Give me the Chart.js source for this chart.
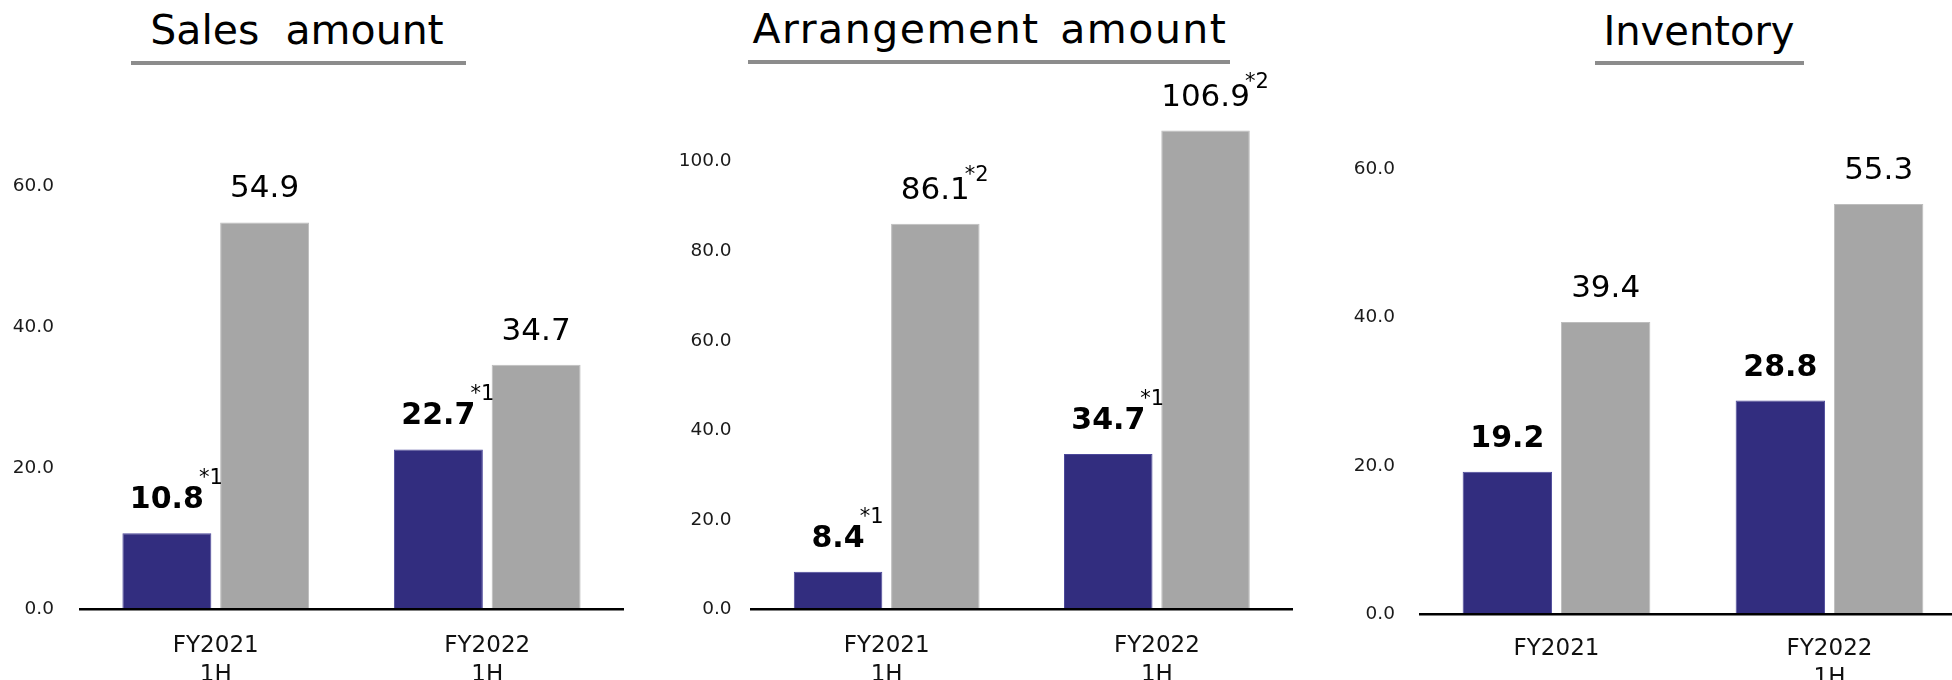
<!DOCTYPE html>
<html>
<head>
<meta charset="utf-8">
<script src="https://cdn.jsdelivr.net/npm/chart.js@4.4.0/dist/chart.umd.min.js"></script>
<style>
html,body{margin:0;padding:0;background:#fff;overflow:hidden;width:1952px;height:680px;position:relative;}
canvas{position:absolute;top:0;}
.title{position:absolute;font-family:'DejaVu Sans',Verdana,sans-serif;font-size:41px;line-height:41px;color:#000;white-space:pre;transform:translateX(-50%);}
.uline{position:absolute;height:4px;background:#8c8c8c;}
</style>
</head>
<body>
<div class="title" style="left:297px;top:10px;">Sales  amount</div>
<div class="uline" style="left:131px;width:335px;top:61px;"></div>
<div class="title" style="left:990px;top:9px;letter-spacing:1.5px;word-spacing:6px;">Arrangement amount</div>
<div class="uline" style="left:748px;width:482px;top:60px;"></div>
<div class="title" style="left:1699px;top:11px;font-size:40px;">Inventory</div>
<div class="uline" style="left:1595px;width:209px;top:61px;"></div>

<canvas id="c1" width="650" height="680" style="left:0px;"></canvas>
<canvas id="c2" width="650" height="680" style="left:650px;"></canvas>
<canvas id="c3" width="680" height="680" style="left:1300px;"></canvas>

<script>
// ---- data ----
const salesCategories = [['FY2021', '1H'], ['FY2022', '1H']];
const arrangementCategories = [['FY2021', '1H'], ['FY2022', '1H']];
const inventoryCategories = [['FY2021'], ['FY2022', '1H']];

const salesBlue = [10.8, 22.7];
const salesGray = [54.9, 34.7];
const salesBlueNotes = ['*1', '*1'];
const salesGrayNotes = ['', ''];

const arrangementBlue = [8.4, 34.7];
const arrangementGray = [86.1, 106.9];
const arrangementBlueNotes = ['*1', '*1'];
const arrangementGrayNotes = ['*2', '*2'];

const inventoryBlue = [19.2, 28.8];
const inventoryGray = [39.4, 55.3];
const inventoryBlueNotes = ['', ''];
const inventoryGrayNotes = ['', ''];

const salesTicks = [0, 20, 40, 60];
const arrangementTicks = [0, 20, 40, 60, 80, 100];
const inventoryTicks = [0, 20, 40, 60];

// ---- drawing ----
const FONT = "'DejaVu Sans', Verdana, sans-serif";
Chart.defaults.font.family = FONT;

const valueLabels = {
  id: 'valueLabels',
  afterDatasetsDraw(chart) {
    const ctx = chart.ctx;
    chart.data.datasets.forEach((ds, di) => {
      const meta = chart.getDatasetMeta(di);
      meta.data.forEach((bar, i) => {
        const txt = ds.data[i].toFixed(1);
        const bold = ds.labelBold;
        ctx.save();
        ctx.fillStyle = '#000';
        ctx.font = (bold ? 'bold 30px ' : '31px ') + FONT;
        ctx.textAlign = 'center';
        ctx.textBaseline = 'alphabetic';
        const base = bar.y - 25;
        ctx.fillText(txt, bar.x, base);
        const note = ds.notes[i];
        if (note) {
          const w = ctx.measureText(txt).width;
          ctx.font = '21px ' + FONT;
          ctx.textAlign = 'left';
          ctx.fillText(note, bar.x + w / 2 - 5, base - (bold ? 24 : 18));
        }
        ctx.restore();
      });
    });
  }
};

function makeChart(id, cats, blue, gray, blueNotes, grayNotes, tickVals, yMax, lay) {
  return new Chart(document.getElementById(id), {
    type: 'bar',
    data: {
      labels: cats,
      datasets: [
        { label: 'Blue', data: blue, backgroundColor: '#322D7F', borderColor: '#4c489a',
          borderWidth: {left: 1, right: 1, top: 1, bottom: 0}, labelBold: true, notes: blueNotes,
          categoryPercentage: 0.72, barPercentage: 0.91 },
        { label: 'Gray', data: gray, backgroundColor: '#A6A6A6', borderColor: '#bdbdbd',
          borderWidth: {left: 1, right: 1, top: 1, bottom: 0}, labelBold: false, notes: grayNotes,
          categoryPercentage: 0.72, barPercentage: 0.91 }
      ]
    },
    options: {
      responsive: false,
      animation: false,
      devicePixelRatio: 1,
      layout: { padding: { left: 0, right: lay.padRight, top: lay.padTop, bottom: 0 } },
      plugins: { legend: { display: false }, tooltip: { enabled: false }, title: { display: false } },
      scales: {
        x: {
          grid: { display: false, drawTicks: false },
          border: { display: true, color: '#000', width: 2.5, z: 2 },
          ticks: { color: '#111', font: { size: 23, lineHeight: 1.27 }, padding: lay.xPad, maxRotation: 0, autoSkip: false },
          afterFit(s) { s.height = lay.xH; }
        },
        y: {
          min: 0, max: yMax,
          grid: { display: false, drawTicks: false },
          border: { display: false },
          ticks: { color: '#1a1a1a', font: { size: 18.5 }, padding: lay.yPad,
                   callback: v => v.toFixed(1) },
          afterBuildTicks(s) { s.ticks = tickVals.map(v => ({ value: v })); },
          afterFit(s) { s.width = lay.yW; }
        }
      }
    },
    plugins: [valueLabels]
  });
}

makeChart('c1', salesCategories, salesBlue, salesGray, salesBlueNotes, salesGrayNotes, salesTicks, 60,
  { padRight: 27, padTop: 186.5, xH: 70.5, yW: 80, yPad: 26, xPad: 21.9 });
makeChart('c2', arrangementCategories, arrangementBlue, arrangementGray, arrangementBlueNotes, arrangementGrayNotes, arrangementTicks, 120,
  { padRight: 8, padTop: 71.9, xH: 70.5, yW: 101.6, yPad: 20, xPad: 21.9 });
makeChart('c3', inventoryCategories, inventoryBlue, inventoryGray, inventoryBlueNotes, inventoryGrayNotes, inventoryTicks, 60,
  { padRight: 14, padTop: 169, xH: 65.7, yW: 120, yPad: 25, xPad: 19.8 });
</script>
</body>
</html>
